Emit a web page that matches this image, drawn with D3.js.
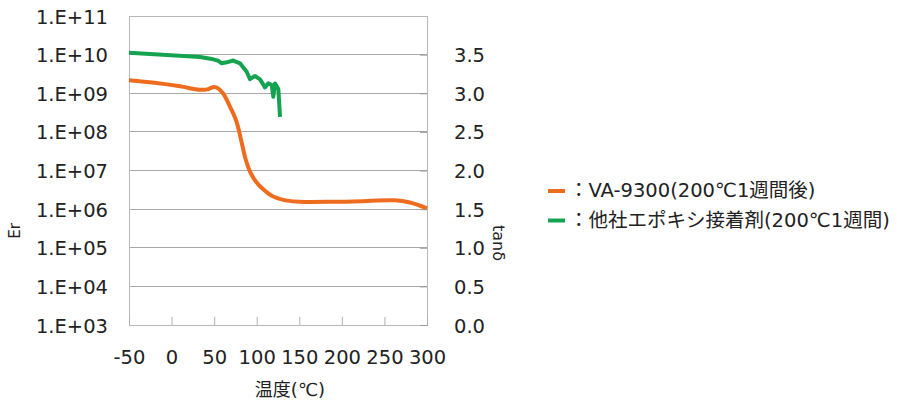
<!DOCTYPE html>
<html><head><meta charset="utf-8">
<script src="https://cdn.jsdelivr.net/npm/d3@7"></script>
<style>
html,body{margin:0;padding:0;background:#fff;}
svg text{font-family:"DejaVu Sans","Noto Sans CJK JP",sans-serif;fill:#222;}
</style></head>
<body>
<svg id="chart" width="897" height="410"></svg>
<script>
// Temperatures (°C) and Er values
const tempVA = [-50, -20, 10, 33, 42, 50, 55, 61, 68, 76, 82, 87, 92, 97, 102, 108, 114, 120, 128, 136, 150, 190, 230, 262, 280, 300];
const erVA = [2.16e9, 1.86e9, 1.51e9, 1.23e9, 1.26e9, 1.45e9, 1.32e9, 9.55e8, 4.79e8, 1.91e8, 5.75e7, 1.95e7, 9.5e6, 6.0e6, 4.3e6, 3.2e6, 2.5e6, 2.09e6, 1.82e6, 1.66e6, 1.55e6, 1.55e6, 1.62e6, 1.70e6, 1.48e6, 1.05e6];
const tempOther = [-50, -5.7, 33.4, 49, 54.9, 58.9, 64.8, 72.5, 80.4, 88.2, 92.1, 98, 103.9, 109.7, 113.6, 117.6, 119.5, 121.5, 125.4, 127.4];
const erOther = [1.12e10, 9.77e9, 8.67e9, 7.55e9, 6.95e9, 5.96e9, 6.32e9, 7.03e9, 5.96e9, 3.61e9, 2.33e9, 2.79e9, 2.29e9, 1.42e9, 1.80e9, 1.63e9, 8.11e8, 1.80e9, 1.29e9, 2.46e8];
const xTicks = [-50, 0, 50, 100, 150, 200, 250, 300];
const erTicks = [1e3, 1e4, 1e5, 1e6, 1e7, 1e8, 1e9, 1e10, 1e11];
const tanTicks = [0.0, 0.5, 1.0, 1.5, 2.0, 2.5, 3.0, 3.5];
const seriesNames = ["：VA-9300(200℃1週間後)", "：他社エポキシ接着剤(200℃1週間)"];
const seriesColors = ["#ee6c1e", "#14a351"];

const svg = d3.select("#chart");
const L = 129, R = 427, T = 16, B = 325;
const x = d3.scaleLinear().domain([-50, 300]).range([L, R]);
const y = d3.scaleLog().domain([1e3, 1e11]).range([B, T]);
const y2 = d3.scaleLinear().domain([0, 4]).range([B, T]);
const grid = "#a8a8a8";

// gridlines
svg.append("g").selectAll("line").data(erTicks.slice(1, -1)).join("line")
  .attr("x1", L).attr("x2", R).attr("y1", d => y(d)).attr("y2", d => y(d))
  .attr("stroke", grid).attr("stroke-width", 1).attr("shape-rendering", "crispEdges");
// frame
svg.append("rect").attr("x", L).attr("y", T).attr("width", R - L).attr("height", B - T)
  .attr("fill", "none").attr("stroke", "#b8b8b8").attr("stroke-width", 1).attr("shape-rendering", "crispEdges");

// left axis
const fmtE = d => "1.E+" + String(Math.round(Math.log10(d))).padStart(2, "0");
const ya = svg.append("g").attr("transform", `translate(${L},0)`)
  .call(d3.axisLeft(y).tickValues(erTicks).tickFormat(fmtE).tickSize(0).tickPadding(21));
ya.select(".domain").remove();
ya.selectAll("text").attr("font-size", "19.5px").attr("fill", "#222").attr("dy", "0.36em")
  .style("font-family", '"DejaVu Sans",sans-serif');

// right axis
const y2a = svg.append("g").attr("transform", `translate(${R},0)`)
  .call(d3.axisRight(y2).tickValues(tanTicks).tickFormat(d3.format(".1f")).tickSize(-7).tickPadding(27));
y2a.select(".domain").remove();
y2a.selectAll("line").attr("stroke", "#999");
y2a.selectAll("text").attr("font-size", "19.5px").attr("fill", "#222").attr("dy", "0.36em")
  .style("font-family", '"DejaVu Sans",sans-serif');

// bottom axis
const xa = svg.append("g").attr("transform", `translate(0,${B})`)
  .call(d3.axisBottom(x).tickValues(xTicks).tickFormat(d => String(d)).tickSize(-8).tickPadding(25));
xa.select(".domain").remove();
xa.selectAll("line").attr("stroke", "#b0b0b0");
xa.selectAll("text").attr("font-size", "19.5px").attr("fill", "#222")
  .style("font-family", '"DejaVu Sans",sans-serif');

// titles
svg.append("text").attr("transform", "translate(20,231) rotate(-90)").attr("text-anchor", "middle")
  .attr("font-size", "15px").text("Er");
svg.append("text").attr("transform", "translate(493,243) rotate(90)").attr("text-anchor", "middle")
  .attr("font-size", "16px").text("tanδ");
svg.append("text").attr("x", 290).attr("y", 396).attr("text-anchor", "middle")
  .attr("font-size", "18px").text("温度(℃)");

// lines
const lineVA = d3.line().x(d => x(d[0])).y(d => y(d[1])).curve(d3.curveCatmullRom.alpha(0.5));
svg.append("path").datum(d3.zip(tempVA, erVA))
  .attr("d", lineVA).attr("fill", "none")
  .attr("stroke", seriesColors[0]).attr("stroke-width", 4).attr("stroke-linejoin", "round");
svg.append("path").datum(d3.zip(tempOther, erOther))
  .attr("d", d3.line().x(d => x(d[0])).y(d => y(d[1]))).attr("fill", "none")
  .attr("stroke", seriesColors[1]).attr("stroke-width", 4).attr("stroke-linejoin", "round");

// legend
const lg = svg.append("g");
seriesNames.forEach((n, i) => {
  const yy = 191 + i * 29.5;
  lg.append("line").attr("x1", 548).attr("x2", 565).attr("y1", yy).attr("y2", yy)
    .attr("stroke", seriesColors[i]).attr("stroke-width", 4);
  lg.append("text").attr("x", 569).attr("y", yy + 6).attr("font-size", "19.5px").text(n);
});
</script>
</body></html>
